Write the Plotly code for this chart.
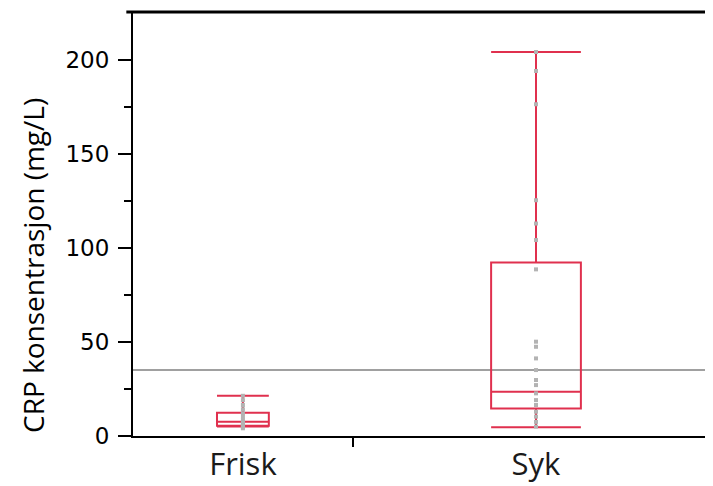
import plotly.graph_objects as go

# ---- data ----
categories = ["Frisk", "Syk"]
group_n = [12, 20]                      # relative group widths on the x axis
box_widths = [2.83, 4.9]
lowerfence = [5.0, 4.6]
q1 = [5.5, 14.7]
median = [7.6, 23.6]
q3 = [12.4, 92.4]
upperfence = [21.4, 204.4]

frisk_points = [21.4, 19.1, 16.5, 14.2, 12.1, 10.3, 8.5, 7.5, 6.4, 5.5, 4.8, 4.1]
syk_points = [204.4, 194.3, 176.6, 125.5, 113.1, 104.3, 88.7, 50.2, 47.5, 41.3,
              35.1, 29.8, 27.1, 22.7, 19.1, 16.5, 12.9, 10.3, 7.5, 5.0]

reference_value = 35.1
y_ticks = [0, 50, 100, 150, 200]
y_minor_ticks = [25, 75, 125, 175]
y_title = "CRP konsentrasjon (mg/L)"

# ---- positions derived from group sizes ----
bounds = [0]
for n in group_n:
    bounds.append(bounds[-1] + n)
centers = [(bounds[i] + bounds[i + 1]) / 2 for i in range(len(group_n))]

RED = "#e0304e"
GRAY = "#b3b3b3"

fig = go.Figure()

for i in range(len(categories)):
    fig.add_trace(go.Box(
        x=[centers[i]], q1=[q1[i]], median=[median[i]], q3=[q3[i]],
        lowerfence=[lowerfence[i]], upperfence=[upperfence[i]],
        width=box_widths[i], whiskerwidth=1,
        fillcolor="rgba(0,0,0,0)",
        line=dict(color=RED, width=2),
        boxpoints=False, showlegend=False, hoverinfo="skip",
    ))

fig.add_trace(go.Scatter(
    x=[centers[0]] * len(frisk_points) + [centers[1]] * len(syk_points),
    y=frisk_points + syk_points,
    mode="markers",
    marker=dict(symbol="square", size=4, color=GRAY),
    showlegend=False, hoverinfo="skip",
))

fig.add_hline(y=reference_value, line=dict(color="#808080", width=1.5), layer="below")

# top frame line
fig.add_shape(type="line", xref="paper", yref="paper", x0=-0.0115, x1=1, y0=1, y1=1,
              line=dict(color="black", width=3))

# y-axis title as annotation (sits lower than plot centre in the reference)
fig.add_annotation(text=y_title, xref="paper", yref="y", x=0, y=90.5,
                   xshift=-100, textangle=-90, showarrow=False,
                   xanchor="center", yanchor="middle",
                   font=dict(family="Open Sans", size=28, color="black"))

total = bounds[-1]
xmax = total * 581.3 / 587.5

fig.update_layout(
    width=705, height=478,
    margin=dict(l=125, r=0, t=4, b=50),
    plot_bgcolor="white", paper_bgcolor="white",
    boxmode="overlay",
    xaxis=dict(
        range=[0, xmax], tickvals=centers, ticktext=categories,
        ticks="", showgrid=False, zeroline=False,
        showline=True, linecolor="black", linewidth=2,
        tickfont=dict(family="Open Sans", size=31, color="#1a1a1a"),
    ),
    xaxis2=dict(
        overlaying="x", matches="x", side="bottom", range=[0, xmax],
        tickvals=[bounds[1]], ticktext=[""], ticks="outside", ticklen=10,
        tickwidth=2, tickcolor="black", showgrid=False, zeroline=False, showline=False,
    ),
    yaxis=dict(
        range=[0, 225.7], tickvals=y_ticks, ticks="outside", ticklen=13,
        tickwidth=2, tickcolor="black", showgrid=False, zeroline=False,
        showline=True, linecolor="black", linewidth=2,
        ticklabelstandoff=4,
        minor=dict(tickvals=y_minor_ticks, ticks="outside", ticklen=7,
                   tickwidth=2, tickcolor="black"),
        tickfont=dict(family="DejaVu Sans", size=23, color="black"),
    ),
)

fig.add_trace(go.Scatter(x=[None], y=[None], xaxis="x2", showlegend=False))

fig.write_html("out.html")
